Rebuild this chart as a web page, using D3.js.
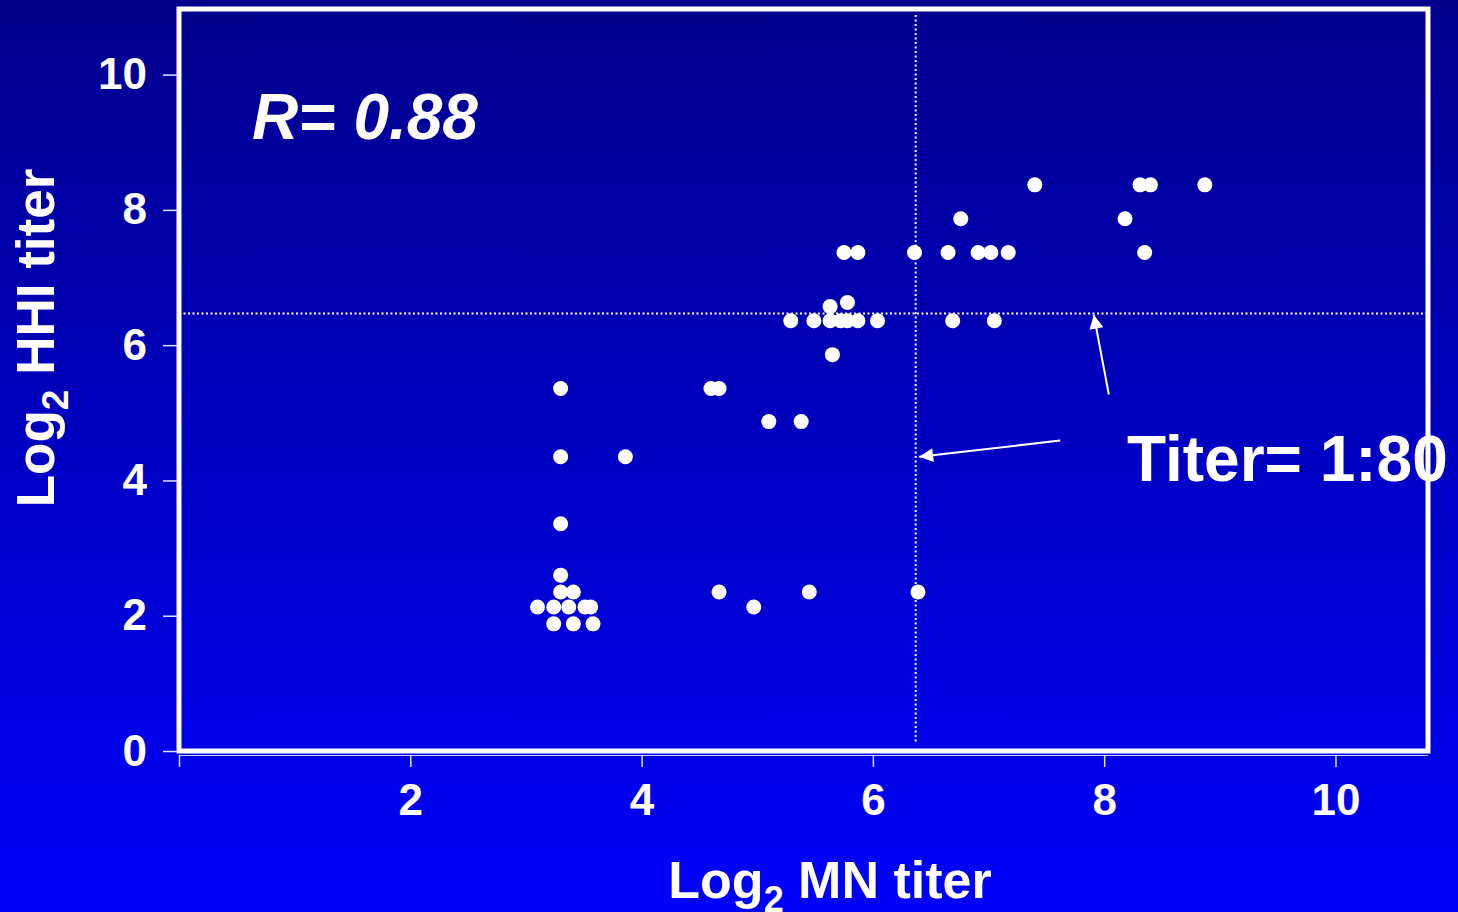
<!DOCTYPE html>
<html>
<head>
<meta charset="utf-8">
<script src="https://cdn.jsdelivr.net/npm/d3@7"></script>
<style>
  html, body { margin: 0; padding: 0; background: #0000f0; }
  svg { display: block; }
  text { font-family: "Liberation Sans", Arial, sans-serif; font-weight: bold; fill: #fff; }
</style>
</head>
<body>
<script>
// Log2 MN titer (x) vs Log2 HHI titer (y)
const mnTiter = [
  7.40, 8.31, 8.40, 8.87,
  6.76, 8.18,
  5.75, 5.87, 6.36, 6.65, 6.91, 7.02, 7.17, 8.35,
  5.78, 5.63,
  5.29, 5.49, 5.63, 5.72, 5.78, 5.87, 6.04, 6.69, 7.05,
  5.65,
  3.30, 4.60, 4.67,
  5.10, 5.38,
  3.30, 3.86,
  3.30,
  3.30,
  3.30, 3.41, 4.67, 5.45, 6.39,
  3.10, 3.24, 3.37, 3.51, 3.56, 4.97,
  3.24, 3.41, 3.58
];
const hhiTiter = [
  8.37, 8.37, 8.37, 8.37,
  7.87, 7.87,
  7.37, 7.37, 7.37, 7.37, 7.37, 7.37, 7.37, 7.37,
  6.63, 6.57,
  6.36, 6.36, 6.36, 6.36, 6.36, 6.36, 6.36, 6.36, 6.36,
  5.86,
  5.36, 5.36, 5.36,
  4.87, 4.87,
  4.35, 4.35,
  3.36,
  2.60,
  2.35, 2.35, 2.35, 2.35, 2.35,
  2.13, 2.13, 2.13, 2.13, 2.13, 2.13,
  1.88, 1.88, 1.88
];
const xTicks = [0, 2, 4, 6, 8, 10];
const yTicks = [0, 2, 4, 6, 8, 10];
const cutoffX = 6.37;   // titer 1:80 on MN axis
const cutoffY = 6.47;   // titer 1:80 on HHI axis
const rValue = "0.88";
// annotation arrows, [tail, head] in data units
const arrows = [
  [[7.62, 4.59], [6.40, 4.35]],
  [[8.04, 5.27], [7.91, 6.45]]
];

const width = 1458, height = 912;
const plotLeft = 179, plotRight = 1428, plotTop = 9, plotBottom = 751;

const x = d3.scaleLinear().domain([0, 10.8]).range([plotLeft, plotRight]);
const y = d3.scaleLinear().domain([0, 10.97]).range([plotBottom, plotTop]);

const svg = d3.select("body").append("svg")
  .attr("width", width)
  .attr("height", height);

// background gradient
const defs = svg.append("defs");
const grad = defs.append("linearGradient")
  .attr("id", "bg").attr("x1", 0).attr("y1", 0).attr("x2", 0).attr("y2", 1);
grad.append("stop").attr("offset", "0%").attr("stop-color", "rgb(0,0,140)");
grad.append("stop").attr("offset", "100%").attr("stop-color", "rgb(0,0,250)");

defs.append("marker")
  .attr("id", "arrow")
  .attr("viewBox", "0 0 10 10")
  .attr("refX", 10).attr("refY", 5)
  .attr("markerUnits", "userSpaceOnUse")
  .attr("markerWidth", 16).attr("markerHeight", 14)
  .attr("orient", "auto")
  .append("path")
  .attr("d", "M0,0 L10,5 L0,10 Z")
  .attr("fill", "#fff");

svg.append("rect")
  .attr("width", width).attr("height", height)
  .attr("fill", "url(#bg)");

// reference lines
svg.append("line")
  .attr("x1", plotLeft).attr("x2", plotRight)
  .attr("y1", y(cutoffY)).attr("y2", y(cutoffY))
  .attr("stroke", "#fff").attr("stroke-width", 2)
  .attr("stroke-dasharray", "2,2.5");

svg.append("line")
  .attr("x1", x(cutoffX)).attr("x2", x(cutoffX))
  .attr("y1", plotTop + 6).attr("y2", plotBottom - 8)
  .attr("stroke", "#fff").attr("stroke-width", 2)
  .attr("stroke-dasharray", "2,2.5");

// points
svg.append("g")
  .selectAll("circle")
  .data(d3.range(mnTiter.length))
  .join("circle")
  .attr("cx", i => x(mnTiter[i]))
  .attr("cy", i => y(hhiTiter[i]))
  .attr("r", 7.5)
  .attr("fill", "#fff");

// plot frame
svg.append("rect")
  .attr("x", plotLeft).attr("y", plotTop)
  .attr("width", plotRight - plotLeft).attr("height", plotBottom - plotTop)
  .attr("fill", "none")
  .attr("stroke", "#fff").attr("stroke-width", 5);

// x axis
const xAxis = svg.append("g")
  .attr("transform", `translate(0,${plotBottom + 4})`)
  .call(d3.axisBottom(x).tickValues(xTicks).tickSize(12).tickPadding(17)
    .tickFormat(d => d === 0 ? "" : d));
xAxis.select(".domain").attr("stroke", "#c8c8ff").attr("stroke-width", 1).attr("d", `M${plotLeft},0.5H${plotRight}`);
xAxis.selectAll(".tick line").attr("stroke", "#e0e0ff").attr("stroke-width", 1.5);
xAxis.selectAll(".tick text").attr("fill", "#fff").style("font-size", "44px");

// y axis
const yAxis = svg.append("g")
  .attr("transform", `translate(${plotLeft - 2},0)`)
  .call(d3.axisLeft(y).tickValues(yTicks).tickSize(14).tickPadding(16));
yAxis.select(".domain").remove();
yAxis.selectAll(".tick line").attr("stroke", "#e0e0ff").attr("stroke-width", 1.5);
yAxis.selectAll(".tick text").attr("fill", "#fff").style("font-size", "44px");

// arrows
svg.append("g")
  .selectAll("line")
  .data(arrows)
  .join("line")
  .attr("x1", d => x(d[0][0])).attr("y1", d => y(d[0][1]))
  .attr("x2", d => x(d[1][0])).attr("y2", d => y(d[1][1]))
  .attr("stroke", "#fff").attr("stroke-width", 2)
  .attr("marker-end", "url(#arrow)");

// annotations
const rText = svg.append("text")
  .attr("x", 252).attr("y", 139)
  .style("font-size", "64px").style("font-style", "italic");
rText.append("tspan").text("R");
rText.append("tspan").text("= " + rValue);

svg.append("text")
  .attr("x", 1127).attr("y", 481)
  .style("font-size", "64px")
  .text("Titer= 1:80");

// axis titles
const xTitle = svg.append("text")
  .attr("x", 830).attr("y", 898)
  .attr("text-anchor", "middle")
  .style("font-size", "52px");
xTitle.append("tspan").text("Log");
xTitle.append("tspan").attr("dy", 14).style("font-size", "36px").text("2");
xTitle.append("tspan").attr("dy", -14).text(" MN titer");

const yTitle = svg.append("text")
  .attr("transform", "translate(54,338) rotate(-90)")
  .attr("text-anchor", "middle")
  .style("font-size", "53px");
yTitle.append("tspan").text("Log");
yTitle.append("tspan").attr("dy", 14).style("font-size", "37px").text("2");
yTitle.append("tspan").attr("dy", -14).text(" HHI titer");
</script>
</body>
</html>
